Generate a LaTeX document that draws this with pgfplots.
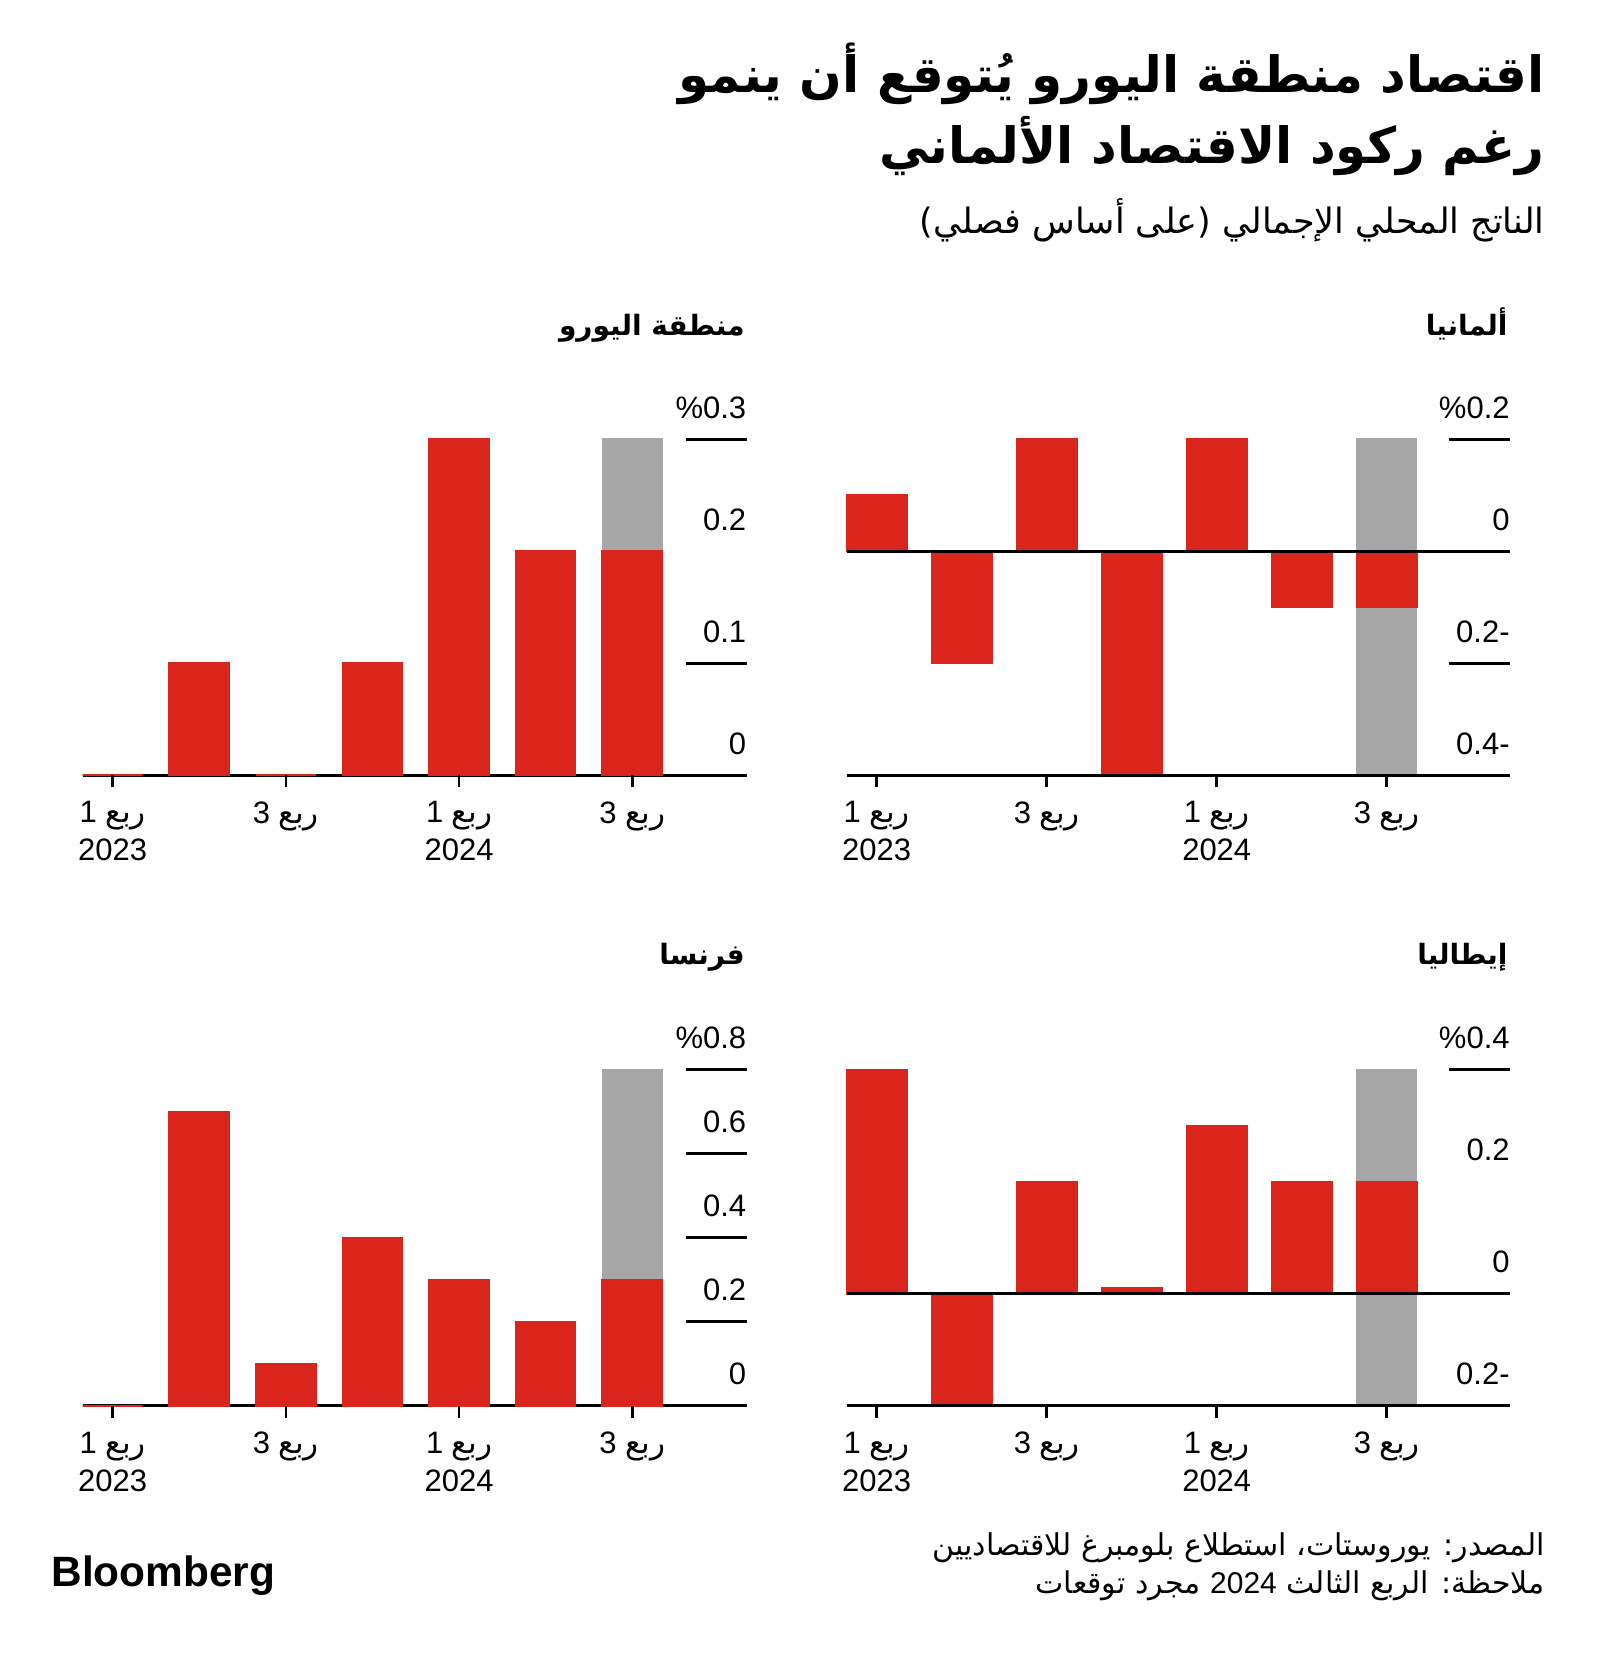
\documentclass[border=0pt]{standalone}
\usepackage{pgfplots}
\pgfplotsset{compat=1.18}
\usepackage{fontspec}
\setmainfont{Liberation Sans}
\newfontfamily\arabicfont[Script=Arabic]{DejaVu Sans}
\TeXXeTstate=1
\definecolor{bbred}{RGB}{218,37,29}
\definecolor{bbgray}{RGB}{166,166,166}
\newcommand\rb[1]{\beginR{\arabicfont ربع} #1\endR}
\tikzset{
  axl/.style={line width=1.5pt, black},
  tkl/.style={line width=1.3pt, black},
}
\pgfplotsset{
  panel/.style={
    scale only axis, clip=false,
    axis line style={draw=none},
    major tick length=0pt,
    tick style={draw=none},
    xtick={0,2,4,6},
    xticklabels={{\rb{1}\\2023},{\rb{3}},{\rb{1}\\2024},{\rb{3}}},
    xticklabel style={align=center, anchor=north, inner sep=0pt, yshift=-13pt, font=\fontsize{15.5}{19}\selectfont},
    yticklabel pos=right,
    yticklabel style={anchor=base east, inner sep=0pt, yshift=10.5pt, font=\fontsize{15.5}{19}\selectfont},
    height=168pt,
  },
  rbar/.style={ybar, bar width=#1, bar shift=0pt, fill=bbred, draw=bbred, line width=0.8pt},
  gbar/.style={ybar, bar width=#1, bar shift=0pt, fill=bbgray, draw=bbgray, line width=0.6pt},
}
\begin{document}
\begin{tikzpicture}
\path[use as bounding box] (0,0) rectangle (800pt,-826.5pt);

% titles
\node[anchor=base east, inner sep=0pt, font=\arabicfont\bfseries\fontsize{25}{30}\selectfont] at (772.5pt,-46.4pt) {\beginR اقتصاد منطقة اليورو يُتوقع أن ينمو\endR};
\node[anchor=base east, inner sep=0pt, font=\arabicfont\bfseries\fontsize{25}{30}\selectfont] at (772.5pt,-81.7pt) {\beginR رغم ركود الاقتصاد الألماني\endR};
\node[anchor=base east, inner sep=0pt, font=\arabicfont\fontsize{17.5}{20}\selectfont] at (772.5pt,-117pt) {\beginR الناتج المحلي الإجمالي (على أساس فصلي)\endR};

% panel titles
\node[anchor=base east, inner sep=0pt, font=\arabicfont\bfseries\fontsize{14}{18}\selectfont] at (372.5pt,-167.5pt) {\beginR منطقة اليورو\endR};
\node[anchor=base east, inner sep=0pt, font=\arabicfont\bfseries\fontsize{14}{18}\selectfont] at (754pt,-167.5pt) {\beginR ألمانيا\endR};
\node[anchor=base east, inner sep=0pt, font=\arabicfont\bfseries\fontsize{14}{18}\selectfont] at (372.5pt,-482pt) {\beginR فرنسا\endR};
\node[anchor=base east, inner sep=0pt, font=\arabicfont\bfseries\fontsize{14}{18}\selectfont] at (754pt,-482pt) {\beginR إيطاليا\endR};

% Eurozone
\begin{axis}[panel, at={(41.35pt,-387.5pt)}, anchor=south west, width=331.95pt,
  xmin=-0.346, xmax=7.32, ymin=0, ymax=0.3,
  ytick={0,0.1,0.2,0.3}, yticklabels={0,0.1,0.2,\%0.3}]
\draw[axl] (axis cs:-0.346,0) -- (axis cs:7.32,0);
\addplot[gbar=0.693] coordinates {(6,0.3)};
\addplot[rbar=0.693] coordinates {(0,0) (1,0.1) (2,0) (3,0.1) (4,0.3) (5,0.2) (6,0.2)};
\draw[axl] (axis cs:7.32,0.3) -- ++(-30.35pt,0pt);
\draw[axl] (axis cs:7.32,0.1) -- ++(-30.35pt,0pt);
\pgfplotsinvokeforeach{0,2,4,6}{\draw[tkl] (axis cs:#1,0) -- ++(0pt,-6pt);}
\end{axis}

% Germany
\begin{axis}[panel, at={(423.35pt,-387.5pt)}, anchor=south west, width=331.65pt,
  xmin=-0.353, xmax=7.45, ymin=-0.4, ymax=0.2,
  ytick={-0.4,-0.2,0,0.2}, yticklabels={0.4-,0.2-,0,\%0.2}]
\addplot[gbar=0.706] coordinates {(6,0.2) (6,-0.4)};
\addplot[rbar=0.706] coordinates {(0,0.1) (1,-0.2) (2,0.2) (3,-0.4) (4,0.2) (5,-0.1) (6,-0.1)};
\draw[axl] (axis cs:-0.353,0) -- (axis cs:7.45,0);
\draw[axl] (axis cs:-0.353,-0.4) -- (axis cs:7.45,-0.4);
\draw[axl] (axis cs:7.45,0.2) -- ++(-30.35pt,0pt);
\draw[axl] (axis cs:7.45,-0.2) -- ++(-30.35pt,0pt);
\pgfplotsinvokeforeach{0,2,4,6}{\draw[tkl] (axis cs:#1,-0.4) -- ++(0pt,-6pt);}
\end{axis}

% France
\begin{axis}[panel, at={(41.35pt,-702.85pt)}, anchor=south west, width=331.95pt,
  xmin=-0.346, xmax=7.32, ymin=0, ymax=0.8,
  ytick={0,0.2,0.4,0.6,0.8}, yticklabels={0,0.2,0.4,0.6,\%0.8}]
\draw[axl] (axis cs:-0.346,0) -- (axis cs:7.32,0);
\addplot[gbar=0.693] coordinates {(6,0.8)};
\addplot[rbar=0.693] coordinates {(0,0) (1,0.7) (2,0.1) (3,0.4) (4,0.3) (5,0.2) (6,0.3)};
\draw[axl] (axis cs:7.32,0.8) -- ++(-30.35pt,0pt);
\draw[axl] (axis cs:7.32,0.6) -- ++(-30.35pt,0pt);
\draw[axl] (axis cs:7.32,0.4) -- ++(-30.35pt,0pt);
\draw[axl] (axis cs:7.32,0.2) -- ++(-30.35pt,0pt);
\pgfplotsinvokeforeach{0,2,4,6}{\draw[tkl] (axis cs:#1,0) -- ++(0pt,-6pt);}
\end{axis}

% Italy
\begin{axis}[panel, at={(423.35pt,-702.85pt)}, anchor=south west, width=331.65pt,
  xmin=-0.353, xmax=7.45, ymin=-0.2, ymax=0.4,
  ytick={-0.2,0,0.2,0.4}, yticklabels={0.2-,0,0.2,\%0.4}]
\addplot[gbar=0.706] coordinates {(6,0.4) (6,-0.2)};
\addplot[rbar=0.706] coordinates {(0,0.4) (1,-0.2) (2,0.2) (3,0.01) (4,0.3) (5,0.2) (6,0.2)};
\draw[axl] (axis cs:-0.353,0) -- (axis cs:7.45,0);
\draw[axl] (axis cs:-0.353,-0.2) -- (axis cs:7.45,-0.2);
\draw[axl] (axis cs:7.45,0.4) -- ++(-30.35pt,0pt);
\pgfplotsinvokeforeach{0,2,4,6}{\draw[tkl] (axis cs:#1,-0.2) -- ++(0pt,-6pt);}
\end{axis}

% footer
\node[anchor=base east, inner sep=0pt, font=\arabicfont\fontsize{15}{18}\selectfont] at (772.5pt,-777.5pt) {\beginR المصدر: يوروستات، استطلاع بلومبرغ للاقتصاديين\endR};
\node[anchor=base east, inner sep=0pt, font=\arabicfont\fontsize{15}{18}\selectfont] at (772.5pt,-796.5pt) {\beginR ملاحظة: الربع الثالث {\rmfamily 2024} مجرد توقعات\endR};
\node[anchor=base west, inner sep=0pt, font=\bfseries\fontsize{21.2}{23}\selectfont] at (25.5pt,-793pt) {Bloomberg};
\end{tikzpicture}
\end{document}
